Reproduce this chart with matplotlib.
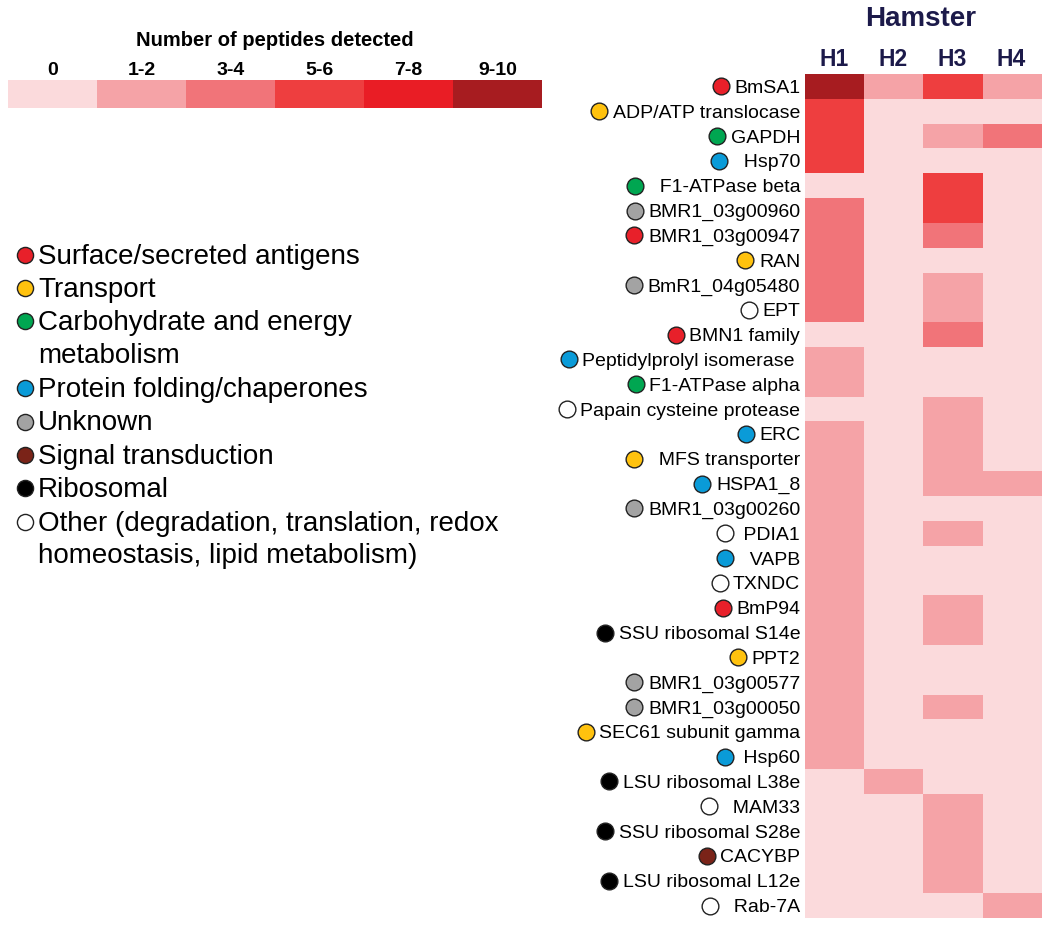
import numpy as np
import matplotlib
matplotlib.use("Agg")
import matplotlib.pyplot as plt
from matplotlib.colors import ListedColormap, BoundaryNorm

# ---------------- data ----------------
proteins = ["BmSA1", "ADP/ATP translocase", "GAPDH", "  Hsp70", "  F1-ATPase beta",
            "BMR1_03g00960", "BMR1_03g00947", "RAN", "BmR1_04g05480", "EPT",
            "BMN1 family", "Peptidylprolyl isomerase ", "F1-ATPase alpha",
            "Papain cysteine protease", "ERC", "  MFS transporter", "HSPA1_8",
            "BMR1_03g00260", " PDIA1", "  VAPB", "TXNDC", "BmP94",
            "SSU ribosomal S14e", "PPT2", "BMR1_03g00577", "BMR1_03g00050",
            "SEC61 subunit gamma", " Hsp60", "LSU ribosomal L38e", "  MAM33",
            "SSU ribosomal S28e", "CACYBP", "LSU ribosomal L12e", "  Rab-7A"]
protein_category = ["surface", "transport", "carb", "folding", "carb",
                    "unknown", "surface", "transport", "unknown", "other",
                    "surface", "folding", "carb",
                    "other", "folding", "transport", "folding",
                    "unknown", "other", "folding", "other", "surface",
                    "ribosomal", "transport", "unknown", "unknown",
                    "transport", "folding", "ribosomal", "other",
                    "ribosomal", "signal", "ribosomal", "other"]
# peptide level index: 0 -> "0", 1 -> "1-2", 2 -> "3-4", 3 -> "5-6", 4 -> "7-8", 5 -> "9-10"
H1 = [5, 3, 3, 3, 0, 2, 2, 2, 2, 2, 0, 1, 1, 0, 1, 1, 1, 1, 1, 1, 1, 1, 1, 1, 1, 1, 1, 1, 0, 0, 0, 0, 0, 0]
H2 = [1, 0, 0, 0, 0, 0, 0, 0, 0, 0, 0, 0, 0, 0, 0, 0, 0, 0, 0, 0, 0, 0, 0, 0, 0, 0, 0, 0, 1, 0, 0, 0, 0, 0]
H3 = [3, 0, 1, 0, 3, 3, 2, 0, 1, 1, 2, 0, 0, 1, 1, 1, 1, 0, 1, 0, 0, 1, 1, 0, 0, 1, 0, 0, 0, 1, 1, 1, 1, 0]
H4 = [1, 0, 2, 0, 0, 0, 0, 0, 0, 0, 0, 0, 0, 0, 0, 0, 1, 0, 0, 0, 0, 0, 0, 0, 0, 0, 0, 0, 0, 0, 0, 0, 0, 1]
hamsters = ["H1", "H2", "H3", "H4"]
level_labels = ["0", "1-2", "3-4", "5-6", "7-8", "9-10"]
level_colors = ["#FBDADC", "#F5A3A7", "#F17479", "#EE3E3F", "#E91D25", "#A71C20"]

category_keys = ["surface", "transport", "carb", "folding", "unknown", "signal", "ribosomal", "other"]
category_names = ["Surface/secreted antigens", "Transport",
                  "Carbohydrate and energy\nmetabolism", "Protein folding/chaperones",
                  "Unknown", "Signal transduction", "Ribosomal",
                  "Other (degradation, translation, redox\nhomeostasis, lipid metabolism)"]
category_colors = ["#E8202A", "#FFC20E", "#00A651", "#0A9BD8", "#A3A3A3", "#7A2318", "#000000", "#FFFFFF"]

# ---------------- figure ----------------
plt.rcParams['font.family'] = ['Liberation Sans', 'DejaVu Sans']
W, H = 1050, 927
fig = plt.figure(figsize=(W / 100, H / 100), dpi=100)
navy = "#1C1A4A"


def px(x0, y0, x1, y1):
    return [x0 / W, 1 - y1 / H, (x1 - x0) / W, (y1 - y0) / H]


# heatmap
ax = fig.add_axes(px(805, 74, 1041, 918))
data = np.array([H1, H2, H3, H4]).T
cmap = ListedColormap(level_colors)
norm = BoundaryNorm(np.arange(-0.5, len(level_colors)), cmap.N)
ax.imshow(data, cmap=cmap, norm=norm, aspect='auto', interpolation='nearest')
ax.set_xticks(range(len(hamsters)))
ax.set_xticklabels(hamsters, fontsize=16.5, fontweight='bold', color=navy)
ax.xaxis.tick_top()
ax.set_yticks(range(len(proteins)))
ax.set_yticklabels(proteins, fontsize=14)
ax.tick_params(axis='y', length=0, pad=3.5)
ax.tick_params(axis='x', length=0, pad=2.5)
for s in ax.spines.values():
    s.set_visible(False)
ax.set_autoscale_on(False)
fig.text(921 / W, 1 - 19 / H, "Hamster", ha='center', va='center',
         fontsize=20, fontweight='bold', color=navy)

# colour key
cax = fig.add_axes(px(8, 80, 542, 108))
cax.imshow(np.arange(len(level_colors))[None, :], cmap=cmap, norm=norm,
           aspect='auto', interpolation='nearest')
cax.set_xticks(range(len(level_labels)))
cax.set_xticklabels(level_labels, fontsize=14, fontweight='bold')
cax.xaxis.tick_top()
cax.set_yticks([])
cax.tick_params(axis='x', length=0, pad=0.5)
for s in cax.spines.values():
    s.set_visible(False)
fig.text(275 / W, 1 - 41 / H, "Number of peptides detected", ha='center', va='center',
         fontsize=14.5, fontweight='bold')

# category legend
lax = fig.add_axes([0, 0, 1, 1], zorder=-1)
lax.set_xlim(0, W)
lax.set_ylim(H, 0)
lax.axis('off')
line = 0
for name, col in zip(category_names, category_colors):
    y = 254.5 + line * 33.4
    lax.scatter([25], [y], s=135, c=col, edgecolors='#222222', linewidths=1.0, zorder=3)
    lax.text(38, y - 11, name, ha='left', va='top', fontsize=20, linespacing=1.31)
    line += name.count('\n') + 1

# circles next to protein labels
fig.canvas.draw()
renderer = fig.canvas.get_renderer()
inv = ax.transData.inverted()
cat_col = dict(zip(category_keys, category_colors))
for i, (lbl, cat) in enumerate(zip(ax.get_yticklabels(), protein_category)):
    bb = lbl.get_window_extent(renderer)
    yd = ax.transData.transform((0, i))[1]
    xd = inv.transform((bb.x0 - 5 - 8.5, yd))[0]
    ax.scatter([xd], [i], s=145, c=cat_col[cat], edgecolors='#222222',
               linewidths=1.0, clip_on=False, zorder=5)

fig.savefig("out.png", dpi=100)
